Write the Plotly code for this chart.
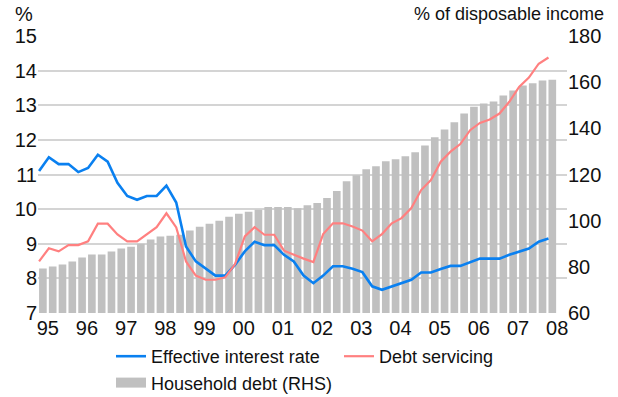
import plotly.graph_objects as go

# Quarterly, 1995Q1 .. 2008Q1
year_labels = ["95", "96", "97", "98", "99", "00", "01", "02", "03", "04", "05", "06", "07", "08"]

effective_rate = [11.10, 11.50, 11.30, 11.30, 11.07, 11.19, 11.57, 11.37, 10.76, 10.38,
                  10.27, 10.38, 10.38, 10.68, 10.19, 8.92, 8.49, 8.28, 8.08, 8.08,
                  8.39, 8.78, 9.06, 8.96, 8.96, 8.68, 8.49, 8.08, 7.86, 8.08,
                  8.35, 8.35, 8.28, 8.18, 7.77, 7.67, 7.77, 7.86, 7.96, 8.17,
                  8.17, 8.27, 8.36, 8.36, 8.47, 8.57, 8.57, 8.57, 8.68, 8.78,
                  8.86, 9.06, 9.15]

debt_servicing = [8.49, 8.87, 8.78, 8.96, 8.96, 9.07, 9.58, 9.58, 9.27, 9.07,
                  9.07, 9.28, 9.48, 9.88, 9.47, 8.49, 8.08, 7.96, 7.96, 8.03,
                  8.41, 9.21, 9.48, 9.26, 9.26, 8.80, 8.68, 8.57, 8.47, 9.28,
                  9.59, 9.59, 9.50, 9.38, 9.07, 9.28, 9.59, 9.74, 10.03, 10.55,
                  10.84, 11.37, 11.66, 11.88, 12.28, 12.49, 12.59, 12.76, 13.10, 13.53,
                  13.80, 14.20, 14.38]

household_debt = [79.3, 80.1, 81.0, 82.3, 84.0, 85.3, 85.3, 86.6, 87.9, 88.7,
                  90.0, 91.8, 93.1, 93.5, 93.9, 95.7, 97.4, 98.7, 100.0, 101.7,
                  103.0, 103.9, 104.7, 105.9, 105.9, 105.9, 105.4, 106.7, 107.6, 109.8,
                  112.8, 117.1, 119.7, 122.3, 123.6, 125.7, 126.6, 127.9, 129.6, 132.6,
                  136.1, 139.5, 142.6, 146.4, 149.3, 150.8, 151.6, 154.2, 156.4, 158.6,
                  159.5, 160.7, 161.1]

n = len(household_debt)
x_bars = list(range(n))
line_offset = -0.39
x_lines = [i + line_offset for i in range(n)]
tick_pos = [4 * k + 0.5 for k in range(len(year_labels))]

FONT = "Liberation Sans, Arial, sans-serif"
BAR_COLOR = "#C0C0C0"

fig = go.Figure()
fig.add_trace(go.Scatter(x=x_lines, y=effective_rate, mode="lines", name="Effective interest rate",
                         line=dict(color="#0A80F0", width=2.6), yaxis="y2"))
fig.add_trace(go.Scatter(x=x_lines, y=debt_servicing, mode="lines", name="Debt servicing",
                         line=dict(color="#FF8080", width=2.2), yaxis="y2"))
fig.add_trace(go.Bar(x=x_bars, y=household_debt, name="Household debt (RHS)",
                     marker=dict(color=BAR_COLOR, line=dict(width=0)), yaxis="y",
                     showlegend=False))
# legend key for the bars, drawn as a wide grey block like the original
fig.add_trace(go.Scatter(x=[None], y=[None], mode="lines", name="Household debt (RHS)",
                         line=dict(color=BAR_COLOR, width=11), yaxis="y", hoverinfo="skip"))

fig.update_layout(
    width=618, height=397,
    margin=dict(l=38, r=51, t=36, b=84, autoexpand=False),
    paper_bgcolor="white", plot_bgcolor="white",
    font=dict(family=FONT, size=20, color="#111111"),
    bargap=0.22,
    showlegend=True,
    legend=dict(orientation="h", xref="container", yref="container",
                x=111 / 618, xanchor="left", y=1 - 338 / 397, yanchor="top",
                entrywidth=183, font=dict(size=18), traceorder="normal",
                bgcolor="rgba(0,0,0,0)", itemwidth=30, tracegroupgap=0),
    xaxis=dict(range=[-0.5, 53.5], tickmode="array", tickvals=tick_pos, ticktext=year_labels,
               showgrid=False, zeroline=False, showline=False, ticks="",
               tickfont=dict(size=20), ticklabelstandoff=1),
    yaxis=dict(side="right", range=[60, 180], dtick=20, tick0=60, showgrid=False,
               zeroline=False, showline=False, ticks="", tickfont=dict(size=20)),
    yaxis2=dict(side="left", overlaying="y", range=[7, 15], dtick=1, tick0=7, showgrid=True,
                gridcolor="#D4D4D4", gridwidth=1.6, zeroline=False, showline=False, ticks="",
                tickfont=dict(size=20)),
    annotations=[
        dict(text="%", xref="paper", yref="paper", x=-0.047, y=1.078, xanchor="left",
             yanchor="middle", showarrow=False, font=dict(size=20)),
        dict(text="% of disposable income", xref="paper", yref="paper", x=1.073, y=1.078,
             xanchor="right", yanchor="middle", showarrow=False, font=dict(size=18)),
    ],
)

fig.write_html("out.html", config={"displayModeBar": False},
               post_script="document.body.style.margin='0';document.body.style.overflow='hidden';")
